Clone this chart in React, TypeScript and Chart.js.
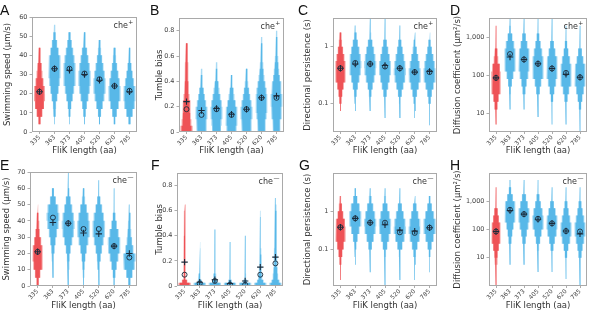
import React, { useEffect, useRef } from "react";
import { Chart, registerables } from "chart.js";

Chart.register(...registerables);

const FONT = '"DejaVu Sans", sans-serif';
const RED = "rgb(238,82,86)";
const RED_LIGHT = "rgb(246,160,160)";
const BLUE = "rgb(88,184,232)";
const BLUE_LIGHT = "rgb(168,218,244)";
const MARK = "#1b2b3b";
const WIDTH_SCALE = 0.9;
const CORE_SCALE = 0.8;
Chart.defaults.font.family = FONT;

const categories = ["335", "363", "373", "405", "520", "620", "785"];
const xAxisTitle = "FliK length (aa)";

// ---------- A: swimming speed, che+ ----------
const speedP_edges = [0, 4, 8, 12, 16, 20, 24, 28, 32, 36, 40, 44, 48, 52, 56, 60];
const speedP_widths = [
  [0, 0.08, 0.22, 0.33, 0.41, 0.4, 0.3, 0.22, 0.15, 0.1, 0.06, 0.03, 0.02, 0, 0],
  [0, 0.02, 0.06, 0.12, 0.22, 0.32, 0.4, 0.46, 0.47, 0.42, 0.32, 0.2, 0.1, 0.04, 0],
  [0, 0.02, 0.07, 0.14, 0.25, 0.35, 0.43, 0.47, 0.45, 0.38, 0.28, 0.17, 0.08, 0.03, 0],
  [0, 0.03, 0.09, 0.18, 0.3, 0.4, 0.46, 0.46, 0.4, 0.3, 0.2, 0.11, 0.05, 0.02, 0],
  [0, 0.04, 0.12, 0.25, 0.37, 0.45, 0.46, 0.4, 0.3, 0.2, 0.12, 0.06, 0.03, 0.02, 0],
  [0, 0.06, 0.18, 0.33, 0.44, 0.46, 0.4, 0.3, 0.2, 0.12, 0.07, 0.03, 0.02, 0, 0],
  [0, 0.08, 0.25, 0.4, 0.46, 0.44, 0.34, 0.24, 0.15, 0.09, 0.05, 0.03, 0.02, 0, 0],
];
const speedP_median = [21, 33, 33, 30.5, 27.5, 24, 21.5];
const speedP_mean = [21, 33, 32.2, 30, 27, 24, 21];
const speedP_ticks = [0, 10, 20, 30, 40, 50, 60];
const speedP_tickLabels = ["0", "10", "20", "30", "40", "50", "60"];

// ---------- B: tumble bias, che+ ----------
const biasP_edges = [0, 0.05, 0.1, 0.15, 0.2, 0.25, 0.3, 0.35, 0.4, 0.45, 0.5, 0.55, 0.6, 0.65, 0.7, 0.75, 0.8, 0.85, 0.9];
const biasP_widths = [
  [0.45, 0.36, 0.33, 0.3, 0.27, 0.22, 0.17, 0.15, 0.13, 0.12, 0.12, 0.1, 0.07, 0.05, 0.035, 0.025, 0.02, 0],
  [0.35, 0.4, 0.45, 0.44, 0.35, 0.25, 0.17, 0.1, 0.06, 0.045, 0.035, 0.03, 0.025, 0.02, 0.02, 0, 0, 0],
  [0.33, 0.38, 0.43, 0.45, 0.4, 0.3, 0.22, 0.14, 0.09, 0.06, 0.045, 0.035, 0.03, 0.025, 0.02, 0.02, 0, 0],
  [0.38, 0.43, 0.46, 0.42, 0.32, 0.22, 0.14, 0.08, 0.05, 0.035, 0.03, 0.025, 0.02, 0, 0, 0, 0, 0],
  [0.34, 0.4, 0.44, 0.45, 0.38, 0.28, 0.2, 0.13, 0.08, 0.05, 0.035, 0.03, 0.02, 0, 0, 0, 0, 0],
  [0.28, 0.32, 0.38, 0.42, 0.44, 0.43, 0.38, 0.3, 0.22, 0.16, 0.12, 0.09, 0.07, 0.05, 0.04, 0.03, 0.02, 0],
  [0.26, 0.3, 0.36, 0.4, 0.43, 0.44, 0.4, 0.34, 0.26, 0.2, 0.15, 0.12, 0.09, 0.07, 0.05, 0.04, 0.03, 0.02],
];
const biasP_median = [0.18, 0.135, 0.18, 0.135, 0.18, 0.27, 0.27];
const biasP_mean = [0.24, 0.17, 0.185, 0.14, 0.18, 0.27, 0.285];
const biasP_ticks = [0, 0.2, 0.4, 0.6, 0.8];
const biasP_tickLabels = ["0", "0.2", "0.4", "0.6", "0.8"];

// ---------- C: directional persistence, che+ (bin edges as log10) ----------
const persistP_edges = [-1.5, -1.375, -1.25, -1.125, -1, -0.875, -0.75, -0.625, -0.5, -0.375, -0.25, -0.125, 0, 0.125, 0.25, 0.375, 0.5];
const persistP_widths = [
  [0, 0, 0, 0.03, 0.08, 0.15, 0.25, 0.35, 0.4, 0.38, 0.3, 0.2, 0.12, 0.06, 0.03, 0],
  [0, 0, 0, 0.02, 0.04, 0.1, 0.2, 0.32, 0.42, 0.46, 0.42, 0.32, 0.2, 0.1, 0.04, 0.02],
  [0, 0, 0, 0.02, 0.04, 0.1, 0.2, 0.33, 0.43, 0.46, 0.4, 0.3, 0.18, 0.08, 0.03, 0.02],
  [0, 0, 0.02, 0.02, 0.06, 0.13, 0.25, 0.37, 0.45, 0.45, 0.37, 0.25, 0.14, 0.06, 0.03, 0.02],
  [0, 0, 0.02, 0.03, 0.07, 0.15, 0.28, 0.4, 0.46, 0.42, 0.33, 0.22, 0.12, 0.05, 0.02, 0],
  [0, 0, 0.02, 0.03, 0.09, 0.18, 0.32, 0.43, 0.46, 0.38, 0.27, 0.16, 0.08, 0.03, 0.02, 0],
  [0, 0.02, 0.02, 0.03, 0.09, 0.18, 0.32, 0.43, 0.46, 0.4, 0.3, 0.18, 0.09, 0.04, 0.02, 0],
];
const persistP_median = [0.42, 0.52, 0.5, 0.45, 0.42, 0.36, 0.36];
const persistP_mean = [0.42, 0.5, 0.5, 0.47, 0.42, 0.36, 0.37];
const persistP_ticks = [0.1, 1];
const persistP_tickLabels = ["0.1", "1"];

// ---------- D: diffusion coefficient, che+ (bin edges as log10) ----------
const diffP_edges = [0.5, 0.7, 0.9, 1.1, 1.3, 1.5, 1.7, 1.9, 2.1, 2.3, 2.5, 2.7, 2.9, 3.1, 3.3, 3.5];
const diffP_widths = [
  [0, 0.02, 0.05, 0.12, 0.22, 0.33, 0.38, 0.38, 0.3, 0.18, 0.1, 0.05, 0.03, 0.02, 0],
  [0, 0, 0, 0.02, 0.03, 0.08, 0.16, 0.28, 0.4, 0.46, 0.44, 0.34, 0.2, 0.08, 0.02],
  [0, 0, 0, 0.02, 0.05, 0.12, 0.22, 0.35, 0.44, 0.46, 0.4, 0.28, 0.15, 0.06, 0.02],
  [0, 0, 0.02, 0.03, 0.07, 0.15, 0.27, 0.4, 0.46, 0.44, 0.34, 0.22, 0.11, 0.04, 0.02],
  [0, 0.02, 0.02, 0.04, 0.1, 0.2, 0.33, 0.44, 0.46, 0.4, 0.28, 0.16, 0.07, 0.03, 0.02],
  [0, 0.02, 0.02, 0.06, 0.13, 0.26, 0.4, 0.46, 0.43, 0.33, 0.2, 0.1, 0.04, 0.02, 0],
  [0.02, 0.02, 0.05, 0.1, 0.2, 0.32, 0.43, 0.46, 0.4, 0.28, 0.16, 0.07, 0.03, 0.02, 0],
];
const diffP_median = [85, 360, 260, 200, 150, 115, 88];
const diffP_mean = [85, 300, 260, 200, 150, 105, 88];
const diffP_ticks = [10, 100, 1000];
const diffP_tickLabels = ["10", "100", "1,000"];

// ---------- E: swimming speed, che- ----------
const speedM_edges = [0, 5, 10, 15, 20, 25, 30, 35, 40, 45, 50, 55, 60, 65, 70];
const speedM_widths = [
  [0.08, 0.2, 0.32, 0.38, 0.36, 0.26, 0.16, 0.1, 0.06, 0.03, 0.02, 0, 0, 0],
  [0, 0.02, 0.04, 0.07, 0.12, 0.2, 0.3, 0.42, 0.47, 0.4, 0.22, 0.08, 0, 0],
  [0.02, 0.03, 0.06, 0.1, 0.18, 0.3, 0.42, 0.47, 0.42, 0.3, 0.18, 0.08, 0.03, 0.02],
  [0.02, 0.04, 0.08, 0.14, 0.24, 0.36, 0.45, 0.46, 0.38, 0.25, 0.12, 0.05, 0.02, 0],
  [0.02, 0.04, 0.08, 0.14, 0.24, 0.36, 0.45, 0.46, 0.38, 0.25, 0.12, 0.04, 0.02, 0],
  [0.04, 0.1, 0.2, 0.32, 0.44, 0.46, 0.34, 0.2, 0.1, 0.04, 0.02, 0.02, 0, 0],
  [0.08, 0.24, 0.4, 0.46, 0.3, 0.2, 0.14, 0.1, 0.06, 0.04, 0.02, 0.02, 0, 0],
];
const speedM_median = [21, 42, 38.5, 35, 35, 24.5, 17.5];
const speedM_mean = [21, 39, 38.5, 32.5, 32, 24.5, 20];
const speedM_ticks = [0, 10, 20, 30, 40, 50, 60, 70];
const speedM_tickLabels = ["0", "10", "20", "30", "40", "50", "60", "70"];

// ---------- F: tumble bias, che- ----------
const biasM_edges = [0, 0.025, 0.05, 0.1, 0.15, 0.2, 0.25, 0.3, 0.35, 0.4, 0.45, 0.5, 0.55, 0.6, 0.65, 0.7, 0.75, 0.8, 0.85, 0.9];
const biasM_widths = [
  [0.45, 0.2, 0.1, 0.08, 0.07, 0.07, 0.06, 0.06, 0.06, 0.05, 0.05, 0.05, 0.05, 0.04, 0.03, 0.025, 0.02, 0.02, 0],
  [0.45, 0.15, 0.08, 0.05, 0.04, 0.035, 0.03, 0.025, 0.02, 0.02],
  [0.45, 0.18, 0.1, 0.06, 0.04, 0.035, 0.03, 0.025, 0.02, 0.02],
  [0.45, 0.12, 0.06, 0.04, 0.03, 0.025, 0.02, 0.02],
  [0.45, 0.14, 0.07, 0.05, 0.04, 0.03, 0.025, 0.02, 0.02],
  [0.45, 0.25, 0.15, 0.1, 0.08, 0.07, 0.06, 0.05, 0.05, 0.04, 0.04, 0.03, 0.025, 0.02, 0.02, 0.02],
  [0.45, 0.3, 0.2, 0.16, 0.13, 0.12, 0.11, 0.1, 0.09, 0.08, 0.08, 0.07, 0.06, 0.05, 0.04, 0.03, 0.025, 0.02],
];
const biasM_median = [0.09, 0.02, 0.04, 0.01, 0.01, 0.09, 0.18];
const biasM_mean = [0.19, 0.03, 0.05, 0.02, 0.04, 0.15, 0.23];
const biasM_ticks = [0, 0.2, 0.4, 0.6, 0.8];
const biasM_tickLabels = ["0", "0.2", "0.4", "0.6", "0.8"];

// ---------- G: directional persistence, che- (bin edges as log10) ----------
const persistM_edges = [-2, -1.8, -1.6, -1.4, -1.2, -1, -0.8, -0.6, -0.4, -0.2, 0, 0.2, 0.4, 0.6, 0.8, 1];
const persistM_widths = [
  [0, 0.02, 0.03, 0.07, 0.15, 0.26, 0.36, 0.4, 0.34, 0.22, 0.12, 0.05, 0.02, 0, 0],
  [0, 0, 0, 0.02, 0.03, 0.08, 0.18, 0.32, 0.44, 0.46, 0.34, 0.16, 0.05, 0, 0],
  [0, 0, 0.02, 0.02, 0.06, 0.14, 0.28, 0.42, 0.46, 0.38, 0.24, 0.1, 0.03, 0, 0],
  [0.02, 0.02, 0.02, 0.04, 0.08, 0.18, 0.32, 0.44, 0.46, 0.36, 0.2, 0.08, 0.02, 0, 0],
  [0, 0.02, 0.02, 0.03, 0.08, 0.2, 0.36, 0.46, 0.42, 0.3, 0.16, 0.06, 0.02, 0, 0],
  [0, 0.02, 0.02, 0.04, 0.1, 0.22, 0.38, 0.46, 0.4, 0.28, 0.14, 0.05, 0.02, 0, 0],
  [0, 0, 0.02, 0.02, 0.06, 0.16, 0.32, 0.45, 0.46, 0.34, 0.18, 0.06, 0.02, 0, 0],
];
const persistM_median = [0.38, 0.65, 0.5, 0.5, 0.28, 0.27, 0.37];
const persistM_mean = [0.38, 0.65, 0.5, 0.44, 0.32, 0.3, 0.37];
const persistM_ticks = [0.1, 1];
const persistM_tickLabels = ["0.1", "1"];

// ---------- H: diffusion coefficient, che- (bin edges as log10) ----------
const diffM_edges = [0, 0.25, 0.5, 0.75, 1, 1.25, 1.5, 1.75, 2, 2.25, 2.5, 2.75, 3, 3.25, 3.5, 3.75, 4];
const diffM_widths = [
  [0.02, 0.02, 0.04, 0.08, 0.14, 0.24, 0.34, 0.38, 0.34, 0.24, 0.14, 0.06, 0.03, 0.02, 0, 0],
  [0, 0, 0, 0.02, 0.03, 0.06, 0.12, 0.2, 0.3, 0.4, 0.46, 0.4, 0.24, 0.1, 0.03, 0],
  [0, 0, 0, 0.02, 0.03, 0.07, 0.14, 0.24, 0.36, 0.45, 0.44, 0.32, 0.17, 0.06, 0.02, 0],
  [0, 0, 0.02, 0.02, 0.04, 0.09, 0.18, 0.3, 0.42, 0.46, 0.38, 0.24, 0.12, 0.04, 0.02, 0],
  [0, 0, 0.02, 0.02, 0.05, 0.12, 0.24, 0.38, 0.46, 0.42, 0.3, 0.16, 0.06, 0.02, 0, 0],
  [0, 0.02, 0.02, 0.04, 0.1, 0.2, 0.34, 0.44, 0.44, 0.34, 0.22, 0.12, 0.05, 0.02, 0, 0],
  [0.02, 0.02, 0.04, 0.07, 0.13, 0.22, 0.34, 0.43, 0.44, 0.34, 0.22, 0.12, 0.05, 0.02, 0, 0],
];
const diffM_median = [85, 500, 350, 240, 165, 88, 85];
const diffM_mean = [85, 470, 350, 230, 165, 88, 70];
const diffM_ticks = [10, 100, 1000];
const diffM_tickLabels = ["10", "100", "1,000"];

type PanelCfg = {
  letter: string; title: string; sup: string; log: boolean;
  edges: number[]; widths: number[][]; circles: number[]; pluses: number[];
  yMin: number; yMax: number; yTicks: number[]; yLabels: string[];
  box: number[]; yTitleX: number; xTitleY: number; letterPos: number[];
};

const panels: PanelCfg[] = [
  { letter: "A", title: "Swimming speed (µm/s)", sup: "+", log: false, edges: speedP_edges, widths: speedP_widths, circles: speedP_median, pluses: speedP_mean, yMin: 0, yMax: 60, yTicks: speedP_ticks, yLabels: speedP_tickLabels, box: [32, 17, 137, 132], yTitleX: 7.5, xTitleY: 151, letterPos: [0, 3] },
  { letter: "B", title: "Tumble bias", sup: "+", log: false, edges: biasP_edges, widths: biasP_widths, circles: biasP_median, pluses: biasP_mean, yMin: 0, yMax: 0.9, yTicks: biasP_ticks, yLabels: biasP_tickLabels, box: [179, 18, 284, 132], yTitleX: 160, xTitleY: 151, letterPos: [150, 3] },
  { letter: "C", title: "Directional persistence (s)", sup: "+", log: true, edges: persistP_edges, widths: persistP_widths, circles: persistP_median, pluses: persistP_mean, yMin: 0.032, yMax: 3.2, yTicks: persistP_ticks, yLabels: persistP_tickLabels, box: [333, 18, 437, 132], yTitleX: 307.5, xTitleY: 151, letterPos: [298, 3] },
  { letter: "D", title: "Diffusion coefficient (µm²/s)", sup: "+", log: true, edges: diffP_edges, widths: diffP_widths, circles: diffP_median, pluses: diffP_mean, yMin: 3.2, yMax: 3200, yTicks: diffP_ticks, yLabels: diffP_tickLabels, box: [489, 18, 587, 132], yTitleX: 458, xTitleY: 151, letterPos: [450, 3] },
  { letter: "E", title: "Swimming speed (µm/s)", sup: "—", log: false, edges: speedM_edges, widths: speedM_widths, circles: speedM_median, pluses: speedM_mean, yMin: 0, yMax: 70, yTicks: speedM_ticks, yLabels: speedM_tickLabels, box: [30, 172, 137, 286], yTitleX: 7, xTitleY: 305.5, letterPos: [0, 158] },
  { letter: "F", title: "Tumble bias", sup: "—", log: false, edges: biasM_edges, widths: biasM_widths, circles: biasM_median, pluses: biasM_mean, yMin: 0, yMax: 0.9, yTicks: biasM_ticks, yLabels: biasM_tickLabels, box: [177, 173, 283, 286], yTitleX: 160, xTitleY: 305.5, letterPos: [151, 158] },
  { letter: "G", title: "Directional persistence (s)", sup: "—", log: true, edges: persistM_edges, widths: persistM_widths, circles: persistM_median, pluses: persistM_mean, yMin: 0.011, yMax: 10, yTicks: persistM_ticks, yLabels: persistM_tickLabels, box: [333, 173, 437, 286], yTitleX: 307.5, xTitleY: 305.5, letterPos: [299, 158] },
  { letter: "H", title: "Diffusion coefficient (µm²/s)", sup: "—", log: true, edges: diffM_edges, widths: diffM_widths, circles: diffM_median, pluses: diffM_mean, yMin: 1, yMax: 10000, yTicks: diffM_ticks, yLabels: diffM_tickLabels, box: [489, 173, 587, 286], yTitleX: 457.5, xTitleY: 305.5, letterPos: [450, 158] },
];

const TITLE_SIZE = 8.5;
const LH = TITLE_SIZE * 1.2;
const PAD_TOP = 6;
const PAD_RIGHT = 6;

function geometry(p: PanelCfg) {
  const [L, T, R, B] = p.box;
  const cl = Math.floor(p.yTitleX - LH / 2);
  const yw = L - cl;
  const yTitlePad = p.yTitleX - LH / 2 - cl;
  const xh = Math.ceil(p.xTitleY + LH / 2 - B);
  const xTitlePad = xh - (p.xTitleY - B) - LH / 2;
  return {
    cl, ct: T - PAD_TOP, cw: yw + (R - L) + PAD_RIGHT, ch: PAD_TOP + (B - T) + xh,
    yw, xh, yTitlePad, xTitlePad,
  };
}

function violinOutline(center: number, edges: number[], widths: number[], toY: (e: number) => number, scale: number) {
  let first = -1, last = -1;
  for (let k = 0; k < edges.length - 1; k++) {
    if ((widths[k] || 0) > 0) { if (first < 0) first = k; last = k; }
  }
  if (first < 0) return [];
  const pts: { x: number; y: number }[] = [];
  for (let k = first; k <= last; k++) {
    const w = (widths[k] || 0) * scale;
    pts.push({ x: center + w, y: toY(edges[k]) }, { x: center + w, y: toY(edges[k + 1]) });
  }
  for (let k = last; k >= first; k--) {
    const w = (widths[k] || 0) * scale;
    pts.push({ x: center - w, y: toY(edges[k + 1]) }, { x: center - w, y: toY(edges[k]) });
  }
  return pts;
}

const framePlugin = {
  id: "frame",
  afterDraw(chart: any) {
    const { ctx, chartArea: a } = chart;
    ctx.save();
    ctx.strokeStyle = "#a9a9a9";
    ctx.lineWidth = 1;
    ctx.strokeRect(Math.round(a.left) + 0.5, Math.round(a.top) + 0.5, Math.round(a.right - a.left) - 1, Math.round(a.bottom - a.top) - 1);
    ctx.restore();
  },
};

const chePlugin = {
  id: "che",
  afterDatasetsDraw(chart: any, _args: any, opts: any) {
    if (!opts || !opts.sup) return;
    const { ctx, chartArea: a } = chart;
    ctx.save();
    ctx.fillStyle = "#333";
    ctx.textBaseline = "alphabetic";
    ctx.textAlign = "left";
    const supFont = `6px ${FONT}`;
    const mainFont = `8px ${FONT}`;
    ctx.font = supFont;
    const sw = ctx.measureText(opts.sup).width;
    ctx.font = mainFont;
    const mw = ctx.measureText("che").width;
    const x0 = a.right - 4 - sw - mw;
    const y0 = a.top + 11;
    ctx.fillText("che", x0, y0);
    ctx.font = supFont;
    ctx.fillText(opts.sup, x0 + mw + 0.4, y0 - 4);
    ctx.restore();
  },
};

function makeConfig(p: PanelCfg, g: ReturnType<typeof geometry>): any {
  const toY = (e: number) => (p.log ? Math.pow(10, e) : e);
  const violinSet = (i: number, scale: number, color: string, order: number) => ({
    data: violinOutline(i, p.edges, p.widths[i], toY, scale),
    showLine: true,
    fill: "shape",
    backgroundColor: color,
    borderColor: "rgba(0,0,0,0)",
    borderWidth: 0,
    pointRadius: 0,
    pointHoverRadius: 0,
    tension: 0,
    order,
  });
  const outer = categories.map((_, i) => violinSet(i, WIDTH_SCALE, i === 0 ? RED_LIGHT : BLUE_LIGHT, 3));
  const core = categories.map((_, i) => violinSet(i, WIDTH_SCALE * CORE_SCALE, i === 0 ? RED : BLUE, 2));
  const circleSet = {
    data: categories.map((_, i) => ({ x: i, y: p.circles[i] })),
    showLine: false,
    pointStyle: "circle",
    pointRadius: 2.5,
    pointBorderWidth: 0.9,
    borderColor: MARK,
    pointBorderColor: MARK,
    backgroundColor: "rgba(0,0,0,0)",
    pointBackgroundColor: "rgba(0,0,0,0)",
    order: 1,
  };
  const plusSet = {
    data: categories.map((_, i) => ({ x: i, y: p.pluses[i] })),
    showLine: false,
    pointStyle: "cross",
    pointRadius: 3.2,
    pointBorderWidth: 1.1,
    borderColor: MARK,
    pointBorderColor: MARK,
    backgroundColor: MARK,
    order: 0,
  };
  const tickFont = { size: 6.5, family: FONT };
  const xTickFont = { size: 6, family: FONT };
  const titleFont = { size: TITLE_SIZE, family: FONT };
  const gridCfg = { display: true, drawOnChartArea: false, drawTicks: true, tickLength: 2.5, color: "#999", lineWidth: 0.8 };
  return {
    type: "scatter",
    data: { datasets: [...outer, ...core, circleSet, plusSet] },
    plugins: [framePlugin, chePlugin],
    options: {
      animation: false,
      responsive: false,
      devicePixelRatio: 1,
      events: [],
      layout: { padding: { top: PAD_TOP, right: PAD_RIGHT, left: 0, bottom: 0 } },
      plugins: { legend: { display: false }, tooltip: { enabled: false }, che: { sup: p.sup } },
      scales: {
        x: {
          type: "linear",
          min: -0.5,
          max: 6.5,
          afterBuildTicks: (s: any) => { s.ticks = categories.map((_, i) => ({ value: i })); },
          ticks: {
            callback: (v: any) => categories[Math.round(Number(v))] ?? "",
            minRotation: 45, maxRotation: 45, autoSkip: false,
            font: xTickFont, color: "#444", padding: 0,
          },
          grid: { ...gridCfg, tickLength: 2 },
          border: { display: false },
          title: { display: true, text: xAxisTitle, font: titleFont, color: "#333", padding: { top: 0, bottom: g.xTitlePad } },
          afterFit: (s: any) => { s.height = g.xh; },
        },
        y: {
          type: p.log ? "logarithmic" : "linear",
          min: p.yMin,
          max: p.yMax,
          afterBuildTicks: (s: any) => { s.ticks = p.yTicks.map((v) => ({ value: v })); },
          ticks: {
            callback: (v: any) => {
              const idx = p.yTicks.findIndex((t) => Math.abs(t - Number(v)) < 1e-9 * Math.max(1, Math.abs(t)));
              return idx >= 0 ? p.yLabels[idx] : "";
            },
            autoSkip: false, font: tickFont, color: "#444", padding: 2,
          },
          grid: gridCfg,
          border: { display: false },
          title: { display: true, text: p.title, font: titleFont, color: "#333", padding: { top: g.yTitlePad, bottom: 0 } },
          afterFit: (s: any) => { s.width = g.yw; },
        },
      },
    },
  };
}

function Panel({ p }: { p: PanelCfg }) {
  const ref = useRef<HTMLCanvasElement>(null);
  const g = geometry(p);
  useEffect(() => {
    if (!ref.current) return;
    const chart = new Chart(ref.current, makeConfig(p, g));
    return () => chart.destroy();
  }, []);
  return (
    <canvas
      ref={ref}
      width={g.cw}
      height={g.ch}
      style={{ position: "absolute", left: g.cl, top: g.ct, width: g.cw, height: g.ch, display: "block" }}
    />
  );
}

export default function App() {
  return (
    <div style={{ position: "absolute", left: 0, top: 0, width: 605, height: 312, background: "#fff", overflow: "hidden" }}>
      {panels.map((p) => (
        <Panel key={p.letter} p={p} />
      ))}
      {panels.map((p) => (
        <div
          key={"l" + p.letter}
          style={{
            position: "absolute", left: p.letterPos[0], top: p.letterPos[1],
            font: '14px "Liberation Sans", Arial, sans-serif', lineHeight: "14px", color: "#111", zIndex: 2,
          }}
        >
          {p.letter}
        </div>
      ))}
    </div>
  );
}
